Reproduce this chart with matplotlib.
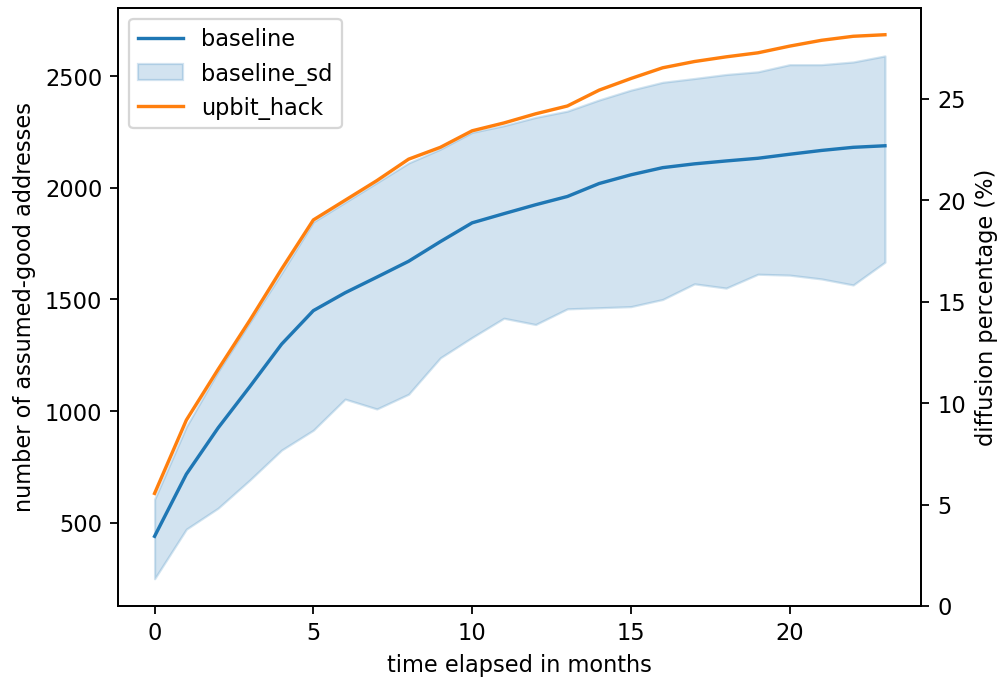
import numpy as np
import matplotlib
matplotlib.use("Agg")
import matplotlib.pyplot as plt

# months elapsed
months = np.arange(24)

# number of assumed-good addresses
baseline = [440, 718, 925, 1110, 1300, 1450, 1530, 1600, 1671, 1759, 1843, 1884,
            1924, 1961, 2019, 2058, 2090, 2107, 2120, 2132, 2150, 2167, 2181, 2188]
sd_upper = [606, 931, 1178, 1398, 1618, 1847, 1935, 2023, 2111, 2173, 2248, 2278,
            2315, 2343, 2393, 2437, 2472, 2489, 2507, 2519, 2551, 2551, 2563, 2590]
sd_lower = [250, 472, 566, 692, 826, 915, 1054, 1010, 1076, 1239, 1330, 1416,
            1388, 1458, 1463, 1468, 1500, 1570, 1551, 1613, 1609, 1592, 1565, 1667]
upbit_hack = [632, 960, 1187, 1407, 1636, 1856, 1944, 2032, 2128, 2181, 2255, 2290,
              2331, 2366, 2437, 2489, 2537, 2565, 2586, 2604, 2634, 2660, 2678, 2685]

# figure sized to hit 1000x679 px
fig = plt.figure(figsize=(1000.5 / 162, 679.5 / 162), dpi=162)
ax1 = fig.add_axes([0.118, 0.1075, 0.803, 0.8807])

ax1.plot(months, baseline, color='C0', label='baseline')
ax1.fill_between(months, sd_lower, sd_upper, color='C0', alpha=0.2, label='baseline_sd')
ax1.plot(months, upbit_hack, color='C1', label='upbit_hack')
ax1.set_xlabel('time elapsed in months')
ax1.set_ylabel('number of assumed-good addresses')
ax1.legend(loc='upper left')

# second axis for the percentage scale
ax2 = ax1.twinx()
ax2.set_ylim(0, 29.5)
ax2.set_ylabel('diffusion percentage (%)')

fig.savefig('out.png', dpi=162)
